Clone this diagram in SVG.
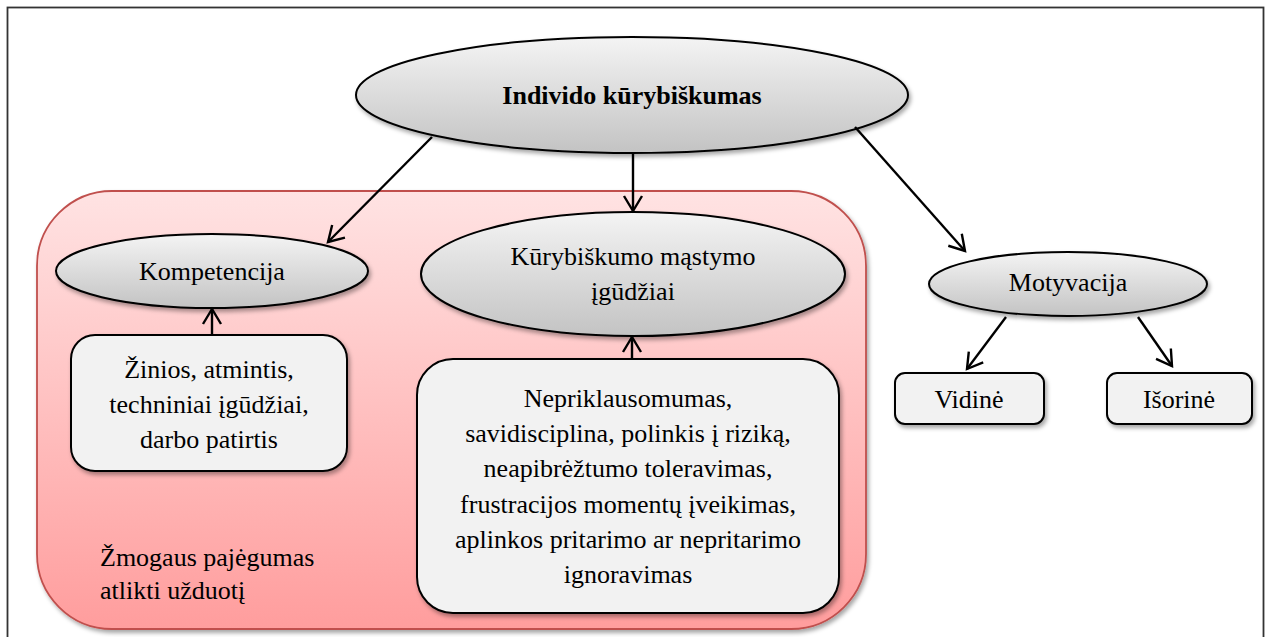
<svg xmlns="http://www.w3.org/2000/svg" width="1269" height="637" viewBox="0 0 1269 637" font-family="'Liberation Serif', 'Times New Roman', 'DejaVu Serif', serif">
<defs>
<linearGradient id="gEll" x1="0" y1="0" x2="0" y2="1">
<stop offset="0" stop-color="#f4f4f4"/>
<stop offset="1" stop-color="#c3c3c3"/>
</linearGradient>
<linearGradient id="gRed" x1="0" y1="0" x2="0" y2="1">
<stop offset="0" stop-color="#ffe3e3"/>
<stop offset="1" stop-color="#ff9d9d"/>
</linearGradient>
<filter id="sh" x="-10%" y="-10%" width="120%" height="130%">
<feDropShadow dx="2" dy="3" stdDeviation="2" flood-color="#000" flood-opacity="0.35"/>
</filter>
<marker id="arr" markerUnits="userSpaceOnUse" markerWidth="30" markerHeight="30" viewBox="-20 -15 30 30" refX="0" refY="0" orient="auto">
<path d="M-15,-9 L0,0 L-15,9" fill="none" stroke="#000" stroke-width="2.4" stroke-linejoin="miter"/>
</marker>
<style>
.ell{fill:url(#gEll);stroke:#000;stroke-width:2;filter:url(#sh)}
.box{fill:#f2f2f2;stroke:#000;stroke-width:2;filter:url(#sh)}
.t{font-family:'Liberation Serif','Times New Roman','DejaVu Serif',serif;font-size:26px;fill:#000;text-anchor:middle}
.b{font-weight:bold}
.l{text-anchor:start}
.c{stroke:#000;stroke-width:2.4;fill:none;marker-end:url(#arr)}
</style>
</defs>
<rect x="0" y="0" width="1269" height="637" fill="#fff"/>
<rect x="7.5" y="7.5" width="1256" height="660" fill="none" stroke="#333" stroke-width="1.8"/>

<g id="capacity">
<rect x="37" y="191" width="829" height="438" rx="75" ry="75" fill="url(#gRed)" stroke="#c0504d" stroke-width="1.8" filter="url(#sh)"/>
<text class="t l" x="100" y="566">Žmogaus pajėgumas</text>
<text class="t l" x="100" y="599">atlikti užduotį</text>
</g>

<g id="individo">
<ellipse class="ell" cx="632" cy="95" rx="276" ry="58"/>
<text class="t b" x="632" y="104">Individo kūrybiškumas</text>
</g>

<g id="kompetencija">
<ellipse class="ell" cx="212" cy="271" rx="156" ry="37"/>
<text class="t" x="212" y="280">Kompetencija</text>
</g>

<g id="mastymas">
<ellipse class="ell" cx="633" cy="274" rx="212" ry="62"/>
<text class="t" x="633" y="265">Kūrybiškumo mąstymo</text>
<text class="t" x="633" y="300">įgūdžiai</text>
</g>

<g id="motyvacija">
<ellipse class="ell" cx="1068" cy="284" rx="139" ry="32"/>
<text class="t" x="1068" y="291">Motyvacija</text>
</g>

<g id="zinios">
<rect class="box" x="71" y="335" width="276" height="136" rx="24" ry="24"/>
<text class="t" x="209" y="378">Žinios, atmintis,</text>
<text class="t" x="209" y="413">techniniai įgūdžiai,</text>
<text class="t" x="209" y="448">darbo patirtis</text>
</g>

<g id="savybes">
<rect class="box" x="417" y="359" width="422" height="254" rx="36" ry="36"/>
<text class="t" x="628" y="407">Nepriklausomumas,</text>
<text class="t" x="628" y="442">savidisciplina, polinkis į riziką,</text>
<text class="t" x="628" y="477">neapibrėžtumo toleravimas,</text>
<text class="t" x="628" y="513">frustracijos momentų įveikimas,</text>
<text class="t" x="628" y="548">aplinkos pritarimo ar nepritarimo</text>
<text class="t" x="628" y="583">ignoravimas</text>
</g>

<g id="vidine">
<rect class="box" x="895" y="373" width="149" height="51" rx="10" ry="10"/>
<text class="t" x="969" y="408">Vidinė</text>
</g>

<g id="isorine">
<rect class="box" x="1107" y="373" width="145" height="51" rx="10" ry="10"/>
<text class="t" x="1179" y="408">Išorinė</text>
</g>

<g id="connectors">
<line class="c" x1="432" y1="137" x2="328" y2="242"/>
<line class="c" x1="633" y1="152" x2="633" y2="211"/>
<line class="c" x1="855" y1="127" x2="965" y2="251"/>
<line class="c" x1="212" y1="335" x2="212" y2="309"/>
<line class="c" x1="632" y1="359" x2="632" y2="337"/>
<line class="c" x1="1006" y1="317" x2="967" y2="369"/>
<line class="c" x1="1138" y1="317" x2="1172" y2="366"/>
</g>
</svg>
